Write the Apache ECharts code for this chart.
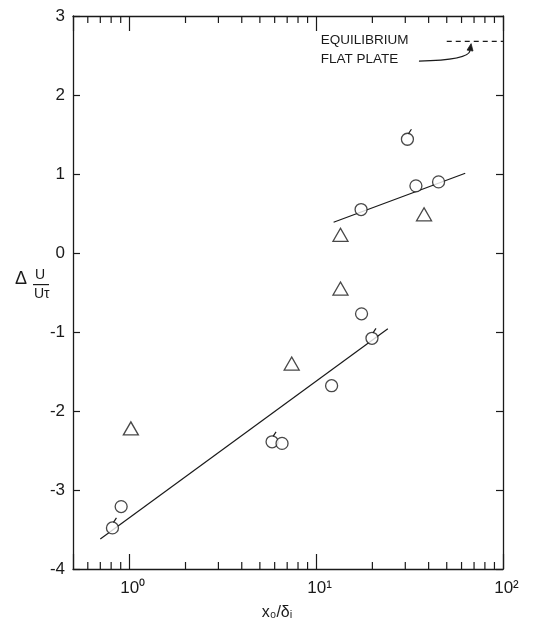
<!DOCTYPE html>
<html><head><meta charset="utf-8">
<script src="https://cdn.jsdelivr.net/npm/echarts@6/dist/echarts.min.js"></script>
<style>html,body{margin:0;padding:0;background:#fff}#c{width:549px;height:622px}</style>
</head><body><div id="c"></div>
<script>
// ---- data ----
const circleX = [0.813, 0.905, 5.81, 6.57, 12.1, 17.5, 19.9, 17.4, 30.8, 34.2, 45.2];
const circleY = [-3.48, -3.21, -2.39, -2.41, -1.68, -0.77, -1.08, 0.55, 1.44, 0.85, 0.90];
const flaggedX = [0.813, 5.81, 19.9, 30.8];
const flaggedY = [-3.48, -2.39, -1.08, 1.44];
const triangleX = [1.02, 7.4, 13.5, 13.5, 37.8];
const triangleY = [-2.22, -1.40, -0.45, 0.23, 0.49];
const lowerFitX = [0.70, 24.2];
const lowerFitY = [-3.62, -0.96];
const upperFitX = [12.4, 62.8];
const upperFitY = [0.39, 1.01];
const equilibriumX = [50, 100];
const equilibriumY = [2.68, 2.68];
// arrow from the "FLAT PLATE" note to the equilibrium line: start, control 1, control 2, tip
const arrowX = [35.5, 58, 66, 67.5];
const arrowY = [2.43, 2.44, 2.5, 2.65];
const minorTicks = [0.6, 0.7, 0.8, 0.9, 2, 3, 4, 5, 6, 7, 8, 9, 20, 30, 40, 50, 60, 70, 80, 90];
const yTicks = [-4, -3, -2, -1, 0, 1, 2, 3];
const xTickLabels = {'0': '10\u2070', '1': '10\u00b9', '2': '10\u00b2'};
const noteLines = ['EQUILIBRIUM', 'FLAT PLATE'];
const noteX = [10.6, 10.6];
const noteY = [2.69, 2.45];

const INK = '#1a1a1a';
const FONT = 'Liberation Sans, Arial, sans-serif';
const zip = (a, b) => a.map((v, i) => [v, b[i]]);

const chart = echarts.init(document.getElementById('c'), null, {renderer: 'canvas'});

const axisLineStyle = {color: INK, width: 1.3};
const option = {
  animation: false,
  backgroundColor: '#fff',
  grid: {left: 73, right: 46, top: 16, bottom: 53, containLabel: false, outerBoundsMode: 'none'},
  xAxis: [{
    type: 'log', logBase: 10, min: 0.5, max: 100, position: 'bottom',
    axisLine: {show: true, onZero: false, lineStyle: axisLineStyle},
    axisTick: {show: true, inside: true, length: 15, lineStyle: {color: INK, width: 1.2}},
    splitLine: {show: false}, minorTick: {show: false},
    axisLabel: {
      color: INK, fontFamily: FONT, fontSize: 17, margin: 11, padding: [0, 0, 0, 7],
      showMinLabel: true, showMaxLabel: true,
      formatter: v => {
        const e = Math.log10(v);
        if (Math.abs(e - Math.round(e)) > 1e-6) return '';
        return xTickLabels[String(Math.round(e))] || '';
      }
    },
    name: 'x\u2080/\u03b4\u1d62', nameLocation: 'middle', nameGap: 36,
    nameTextStyle: {color: INK, fontFamily: FONT, fontSize: 16, padding: [0, 22, 0, 0]}
  }, {
    type: 'log', logBase: 10, min: 0.5, max: 100, position: 'top',
    axisLine: {show: true, onZero: false, lineStyle: axisLineStyle},
    axisTick: {show: true, inside: true, length: 15, lineStyle: {color: INK, width: 1.2}},
    axisLabel: {show: false}, splitLine: {show: false}
  }],
  yAxis: [{
    type: 'value', min: yTicks[0], max: yTicks[yTicks.length - 1], interval: 1, position: 'left',
    axisLine: {show: true, onZero: false, lineStyle: axisLineStyle},
    axisTick: {show: true, inside: true, length: 7, lineStyle: {color: INK, width: 1.2}},
    splitLine: {show: false},
    axisLabel: {color: INK, fontFamily: FONT, fontSize: 17, margin: 8, formatter: v => String(v)}
  }, {
    type: 'value', min: yTicks[0], max: yTicks[yTicks.length - 1], interval: 1, position: 'right',
    axisLine: {show: true, onZero: false, lineStyle: axisLineStyle},
    axisTick: {show: true, inside: true, length: 7, lineStyle: {color: INK, width: 1.2}},
    splitLine: {show: false}, axisLabel: {show: false}
  }],
  series: [
    { // minor ticks on bottom and top log axes
      type: 'custom', silent: true, clip: false, z: 3,
      data: minorTicks.map(v => [v, yTicks[0]]),
      renderItem: (params, api) => {
        const v = api.value(0);
        const b = api.coord([v, yTicks[0]]);
        const t = api.coord([v, yTicks[yTicks.length - 1]]);
        const st = {stroke: INK, lineWidth: 1.2};
        return {type: 'group', children: [
          {type: 'line', shape: {x1: b[0], y1: b[1], x2: b[0], y2: b[1] - 7}, style: st},
          {type: 'line', shape: {x1: t[0], y1: t[1], x2: t[0], y2: t[1] + 7}, style: st}
        ]};
      }
    },
    {type: 'line', data: zip(lowerFitX, lowerFitY), symbol: 'none', z: 2,
     lineStyle: {color: INK, width: 1.2}},
    {type: 'line', data: zip(upperFitX, upperFitY), symbol: 'none', z: 2,
     lineStyle: {color: INK, width: 1.2}},
    {type: 'line', data: zip(equilibriumX, equilibriumY), symbol: 'none', z: 2,
     lineStyle: {color: INK, width: 1.2, type: [5, 4]}},
    { // arrow annotation
      type: 'custom', silent: true, clip: false, z: 2,
      data: [[arrowX[0], arrowY[0]]],
      renderItem: (params, api) => {
        const p = arrowX.map((x, i) => api.coord([x, arrowY[i]]));
        const dx = p[3][0] - p[2][0], dy = p[3][1] - p[2][1];
        const L = Math.hypot(dx, dy) || 1;
        const ux = dx / L, uy = dy / L, nx = -uy, ny = ux;
        const tip = p[3], hl = 7, hw = 3;
        const base = [tip[0] - ux * hl, tip[1] - uy * hl];
        return {type: 'group', children: [
          {type: 'bezierCurve', shape: {x1: p[0][0], y1: p[0][1], cpx1: p[1][0], cpy1: p[1][1],
            cpx2: p[2][0], cpy2: p[2][1], x2: base[0], y2: base[1]},
           style: {stroke: INK, lineWidth: 1.2, fill: null}},
          {type: 'polygon', shape: {points: [tip, [base[0] + nx * hw, base[1] + ny * hw],
            [base[0] - nx * hw, base[1] - ny * hw]]}, style: {fill: INK, stroke: INK, lineWidth: 0.8}}
        ]};
      }
    },
    { // note text
      type: 'custom', silent: true, clip: false, z: 4,
      data: noteLines.map((t, i) => [noteX[i], noteY[i]]),
      renderItem: (params, api) => {
        const c = api.coord([api.value(0), api.value(1)]);
        return {type: 'text', x: c[0], y: c[1],
          style: {text: noteLines[params.dataIndex], fill: INK, font: '13.5px ' + FONT,
                  textAlign: 'left', textVerticalAlign: 'middle'}};
      }
    },
    {type: 'scatter', data: zip(circleX, circleY), symbol: 'circle', symbolSize: 12, z: 5,
     itemStyle: {color: '#fff', borderColor: INK, borderWidth: 1.3}},
    {type: 'scatter', data: zip(triangleX, triangleY), symbol: 'triangle', symbolSize: [15, 13], z: 5,
     itemStyle: {color: '#fff', borderColor: INK, borderWidth: 1.3}},
    { // flags on some circles
      type: 'custom', silent: true, z: 6,
      data: zip(flaggedX, flaggedY),
      renderItem: (params, api) => {
        const c = api.coord([api.value(0), api.value(1)]);
        return {type: 'line', shape: {x1: c[0] + 1, y1: c[1] - 5.5, x2: c[0] + 4, y2: c[1] - 10},
                style: {stroke: INK, lineWidth: 1.2}};
      }
    }
  ],
  graphic: [
    {type: 'text', left: 15, top: 270, style: {text: '\u0394', fill: INK, font: '18px ' + FONT}},
    {type: 'text', left: 35, top: 268, style: {text: 'U', fill: INK, font: '14px ' + FONT}},
    {type: 'rect', left: 33, top: 284, shape: {width: 16, height: 1.2}, style: {fill: INK}},
    {type: 'text', left: 34, top: 287, style: {text: 'U\u03c4', fill: INK, font: '14px ' + FONT}}
  ]
};
chart.setOption(option);
</script>
</body></html>
